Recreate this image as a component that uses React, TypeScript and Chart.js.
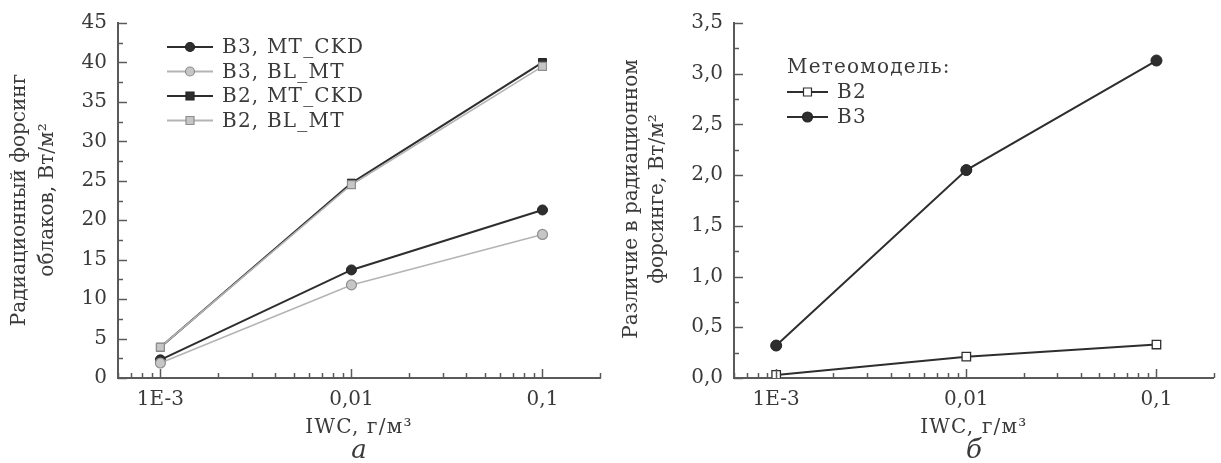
import React, { useEffect, useRef } from 'react';
import { Chart, registerables } from 'chart.js';

Chart.register(...registerables);

// ---------- data ----------
const iwc = [0.001, 0.01, 0.1];
const xTickValues = [0.001, 0.01, 0.1];
const xTickLabels = ['1E-3', '0,01', '0,1'];

const b3MtCkd = [2.3, 13.7, 21.3];
const b3BlMt = [1.9, 11.8, 18.2];
const b2MtCkd = [3.9, 24.7, 40.0];
const b2BlMt = [3.9, 24.5, 39.5];

const diffB2 = [0.03, 0.21, 0.33];
const diffB3 = [0.32, 2.05, 3.13];

const legendA = ['B3, MT_CKD', 'B3, BL_MT', 'B2, MT_CKD', 'B2, BL_MT'];
const legendBTitle = 'Метеомодель:';
const legendB = ['B2', 'B3'];

const yTitleA = ['Радиационный форсинг', 'облаков, Вт/м²'];
const yTitleB = ['Различие в радиационном', 'форсинге, Вт/м²'];
const xTitle = 'IWC, г/м³';

// ---------- styles ----------
const FONT = 'DejaVu Serif';
const TEXT = '#3a3a3a';
const AXIS = '#5a5a5a';
const DARK = '#2e2e2e';
const GREY_LINE = '#b4b4b4';
const GREY_FILL = '#c6c6c6';
const GREY_EDGE = '#8e8e8e';

const pts = (ys: number[]) => iwc.map((x, i) => ({ x, y: ys[i] }));

type LegendItem = { label: string; line: string; lw: number; style: 'circle' | 'rect'; fill: string; edge: string; r: number };

function drawMarker(ctx: CanvasRenderingContext2D, it: LegendItem, x: number, y: number) {
  ctx.beginPath();
  if (it.style === 'circle') ctx.arc(x, y, it.r, 0, Math.PI * 2);
  else ctx.rect(x - it.r, y - it.r, it.r * 2, it.r * 2);
  ctx.fillStyle = it.fill;
  ctx.fill();
  ctx.lineWidth = 1.2;
  ctx.strokeStyle = it.edge;
  ctx.stroke();
}

function decorPlugin(cfg: any) {
  return {
    id: 'decor',
    afterDraw(chart: any) {
      const ctx: any = chart.ctx;
      const { left, right, bottom } = chart.chartArea;
      const xs = chart.scales.x;
      const ys = chart.scales.y;
      ctx.save();
      ctx.strokeStyle = AXIS;
      ctx.lineWidth = 1.5;
      // y ticks (inward)
      const n = Math.round((ys.max - ys.min) / cfg.yMinor);
      for (let i = 0; i <= n; i++) {
        const v = ys.min + i * cfg.yMinor;
        const p = Math.round(ys.getPixelForValue(v)) + 0.5;
        const len = i % 2 === 0 ? 9 : 5;
        ctx.beginPath();
        ctx.moveTo(left, p);
        ctx.lineTo(left + len, p);
        ctx.stroke();
      }
      // x ticks (inward, log minor)
      for (let k = -4; k <= 0; k++) {
        for (let m = 1; m <= 9; m++) {
          const v = m * Math.pow(10, k);
          if (v < xs.min * 0.999 || v > xs.max * 1.001) continue;
          const p = Math.round(xs.getPixelForValue(v)) + 0.5;
          const len = m === 1 ? 9 : 5;
          ctx.beginPath();
          ctx.moveTo(p, bottom);
          ctx.lineTo(p, bottom - len);
          ctx.stroke();
        }
      }
      // y title (rotated, two lines)
      ctx.fillStyle = TEXT;
      ctx.font = `20px "${FONT}"`;
      ctx.textAlign = 'center';
      ctx.textBaseline = 'middle';
      cfg.yTitle.forEach((t: string, i: number) => {
        ctx.save();
        ctx.translate(cfg.yTitleX[i], cfg.yTitleY);
        ctx.rotate(-Math.PI / 2);
        ctx.fillText(t, 0, 0);
        ctx.restore();
      });
      // x title
      ctx.letterSpacing = '1.2px';
      ctx.fillText(xTitle, (left + right) / 2, 428);
      ctx.letterSpacing = '0px';
      // panel label
      ctx.font = `italic 26px "${FONT}"`;
      ctx.fillText(cfg.panel, (left + right) / 2, 451);
      // legend
      ctx.font = `20px "${FONT}"`;
      ctx.textAlign = 'left';
      ctx.letterSpacing = '1.2px';
      if (cfg.legendTitle) {
        ctx.fillStyle = TEXT;
        ctx.fillText(cfg.legendTitle, cfg.legX0, cfg.legTitleY);
      }
      cfg.legend.forEach((it: LegendItem, i: number) => {
        const y = cfg.legY0 + i * cfg.legDy;
        ctx.strokeStyle = it.line;
        ctx.lineWidth = it.lw;
        ctx.beginPath();
        ctx.moveTo(cfg.legX0, y);
        ctx.lineTo(cfg.legX0 + cfg.legW, y);
        ctx.stroke();
        drawMarker(ctx, it, cfg.legX0 + cfg.legW / 2, y);
        ctx.fillStyle = TEXT;
        ctx.fillText(it.label, cfg.legX0 + cfg.legW + 9, y + 1);
      });
      ctx.restore();
    },
  };
}

function makeOptions(yMax: number, yStep: number, yFmt: (v: number) => string, yWidth: number, padRight: number) {
  return {
    animation: false as const,
    responsive: false,
    devicePixelRatio: 1,
    layout: { padding: { left: 0, right: padRight, top: 21, bottom: 0 } },
    plugins: { legend: { display: false }, tooltip: { enabled: false }, title: { display: false } },
    scales: {
      x: {
        type: 'logarithmic' as const,
        min: 0.0006,
        max: 0.2,
        bounds: 'data' as const,
        afterBuildTicks: (s: any) => {
          s.ticks = xTickValues.map((v) => ({ value: v }));
        },
        afterFit: (s: any) => {
          s.height = 85;
        },
        grid: { display: false, drawTicks: false },
        border: { display: true, color: AXIS, width: 2 },
        ticks: {
          autoSkip: false,
          maxRotation: 0,
          padding: 10,
          color: TEXT,
          font: { family: FONT, size: 20 },
          callback: (v: any) => {
            const i = xTickValues.findIndex((t) => Math.abs(t - Number(v)) / t < 1e-6);
            return i >= 0 ? xTickLabels[i] : '';
          },
        },
      },
      y: {
        type: 'linear' as const,
        min: 0,
        max: yMax,
        afterFit: (s: any) => {
          s.width = yWidth;
        },
        grid: { display: false, drawTicks: false },
        border: { display: true, color: AXIS, width: 2 },
        ticks: {
          stepSize: yStep,
          padding: 11,
          color: TEXT,
          font: { family: FONT, size: 20 },
          callback: (v: any) => yFmt(Number(v)),
        },
      },
    },
  };
}

const legendItemsA: LegendItem[] = [
  { label: legendA[0], line: DARK, lw: 2.2, style: 'circle', fill: DARK, edge: '#222', r: 4.5 },
  { label: legendA[1], line: GREY_LINE, lw: 1.8, style: 'circle', fill: GREY_FILL, edge: GREY_EDGE, r: 4.5 },
  { label: legendA[2], line: DARK, lw: 2.2, style: 'rect', fill: DARK, edge: '#222', r: 4 },
  { label: legendA[3], line: GREY_LINE, lw: 1.8, style: 'rect', fill: GREY_FILL, edge: GREY_EDGE, r: 4 },
];

const legendItemsB: LegendItem[] = [
  { label: legendB[0], line: DARK, lw: 2.2, style: 'rect', fill: '#ffffff', edge: DARK, r: 4 },
  { label: legendB[1], line: DARK, lw: 2.2, style: 'circle', fill: DARK, edge: '#222', r: 5 },
];

export default function App() {
  const refA = useRef<HTMLCanvasElement>(null);
  const refB = useRef<HTMLCanvasElement>(null);

  useEffect(() => {
    const chartA = new Chart(refA.current as HTMLCanvasElement, {
      type: 'line',
      data: {
        datasets: [
          {
            label: legendA[3], data: pts(b2BlMt), order: 0,
            borderColor: GREY_LINE, borderWidth: 1.6, pointStyle: 'rect', pointRadius: 5.6,
            pointBackgroundColor: GREY_FILL, pointBorderColor: GREY_EDGE, pointBorderWidth: 1.2,
          },
          {
            label: legendA[1], data: pts(b3BlMt), order: 1,
            borderColor: GREY_LINE, borderWidth: 1.6, pointStyle: 'circle', pointRadius: 5,
            pointBackgroundColor: GREY_FILL, pointBorderColor: GREY_EDGE, pointBorderWidth: 1.2,
          },
          {
            label: legendA[0], data: pts(b3MtCkd), order: 2,
            borderColor: DARK, borderWidth: 2, pointStyle: 'circle', pointRadius: 5,
            pointBackgroundColor: DARK, pointBorderColor: '#222', pointBorderWidth: 1,
          },
          {
            label: legendA[2], data: pts(b2MtCkd), order: 3,
            borderColor: DARK, borderWidth: 2, pointStyle: 'rect', pointRadius: 5.6,
            pointBackgroundColor: DARK, pointBorderColor: '#222', pointBorderWidth: 1,
          },
        ],
      },
      options: makeOptions(45, 5, (v) => String(Math.round(v)), 118, 10) as any,
      plugins: [
        decorPlugin({
          yMinor: 2.5,
          yTitle: yTitleA,
          yTitleX: [20, 48],
          yTitleY: 200,
          panel: 'а',
          legend: legendItemsA,
          legX0: 167,
          legW: 46,
          legY0: 47,
          legDy: 24.5,
        }),
      ],
    });

    const chartB = new Chart(refB.current as HTMLCanvasElement, {
      type: 'line',
      data: {
        datasets: [
          {
            label: legendB[1], data: pts(diffB3),
            borderColor: DARK, borderWidth: 2, pointStyle: 'circle', pointRadius: 5.5,
            pointBackgroundColor: DARK, pointBorderColor: '#222', pointBorderWidth: 1,
          },
          {
            label: legendB[0], data: pts(diffB2),
            borderColor: DARK, borderWidth: 2, pointStyle: 'rect', pointRadius: 6,
            pointBackgroundColor: '#ffffff', pointBorderColor: DARK, pointBorderWidth: 1.3,
          },
        ],
      },
      options: makeOptions(3.5, 0.5, (v) => v.toFixed(1).replace('.', ','), 124, 5) as any,
      plugins: [
        decorPlugin({
          yMinor: 0.25,
          yTitle: yTitleB,
          yTitleX: [22, 48],
          yTitleY: 199,
          panel: 'б',
          legendTitle: legendBTitle,
          legTitleY: 68,
          legend: legendItemsB,
          legX0: 177,
          legW: 41,
          legY0: 92,
          legDy: 25,
        }),
      ],
    });

    return () => {
      chartA.destroy();
      chartB.destroy();
    };
  }, []);

  return (
    <div style={{ position: 'absolute', left: 0, top: 0, width: 1221, height: 463, background: '#ffffff' }}>
      <canvas ref={refA} width={610} height={463} style={{ position: 'absolute', left: 0, top: 0, width: 610, height: 463 }} />
      <canvas ref={refB} width={611} height={463} style={{ position: 'absolute', left: 610, top: 0, width: 611, height: 463 }} />
    </div>
  );
}
